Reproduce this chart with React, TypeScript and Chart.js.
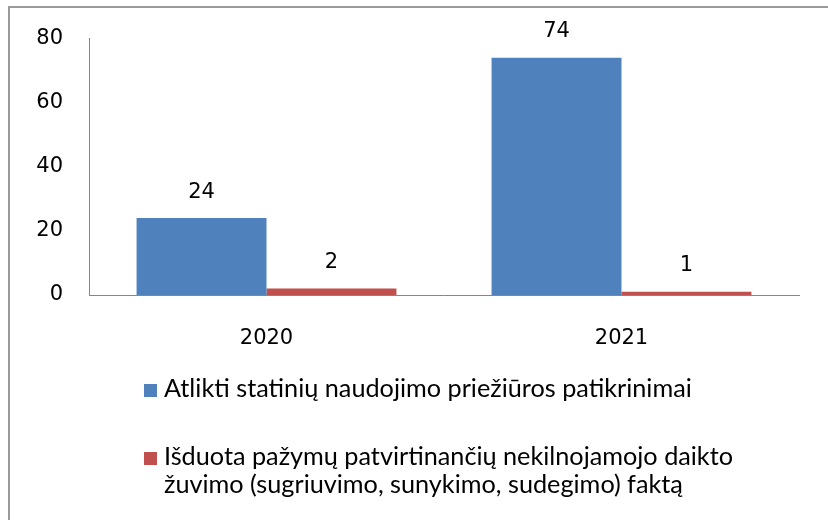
import React, { useEffect, useRef } from "react";
import { Chart, registerables } from "chart.js";

Chart.register(...registerables);

// ---- data ----
const categories = ["2020", "2021"];
const inspections = [24, 74];
const certificates = [2, 1];
const seriesNames: string[][] = [
  ["Atlikti statinių naudojimo priežiūros patikrinimai"],
  [
    "Išduota pažymų patvirtinančių nekilnojamojo daikto",
    "žuvimo (sugriuvimo, sunykimo, sudegimo) faktą",
  ],
];
const seriesColors = ["#4F81BD", "#C0504D"];
const yMin = 0;
const yMax = 80;
const yStep = 20;

const AXIS_FONT = "DejaVu Sans";
const LEGEND_FONT = "Lato";

const framePlugin = {
  id: "frame",
  beforeDraw(chart: any) {
    const ctx = chart.ctx;
    ctx.save();
    ctx.fillStyle = "#ffffff";
    ctx.fillRect(0, 0, chart.width, chart.height);
    ctx.strokeStyle = "#9a9a9a";
    ctx.lineWidth = 2;
    ctx.strokeRect(9, 7, chart.width + 20, chart.height + 20);
    ctx.restore();
  },
};

const valueLabelPlugin = {
  id: "valueLabels",
  afterDatasetsDraw(chart: any) {
    const ctx = chart.ctx;
    ctx.save();
    ctx.font = `21px "${AXIS_FONT}"`;
    ctx.fillStyle = "#000000";
    ctx.textAlign = "center";
    ctx.textBaseline = "middle";
    chart.data.datasets.forEach((ds: any, i: number) => {
      const meta = chart.getDatasetMeta(i);
      meta.data.forEach((el: any, j: number) => {
        ctx.fillText(String(ds.data[j]), el.x, el.y - 26);
      });
    });
    ctx.restore();
  },
};

const legendPlugin = {
  id: "wrapLegend",
  afterDraw(chart: any) {
    const ctx = chart.ctx;
    ctx.save();
    ctx.font = `100px "${LEGEND_FONT}"`;
    const w = ctx.measureText(seriesNames[0][0]).width;
    const size = (100 * 528) / w;
    ctx.font = `${size}px "${LEGEND_FONT}"`;
    ctx.textAlign = "left";
    ctx.textBaseline = "alphabetic";
    const boxX = 144;
    const textX = 164;
    const itemBaselines = [397, 465];
    const lineGap = 28;
    chart.data.datasets.forEach((ds: any, i: number) => {
      const base = itemBaselines[i];
      ctx.fillStyle = ds.backgroundColor;
      ctx.fillRect(boxX, base - 13, 13, 13);
      ctx.fillStyle = "#000000";
      seriesNames[i].forEach((line, k) => {
        ctx.fillText(line, textX, base + k * lineGap);
      });
    });
    ctx.restore();
  },
};

export default function App() {
  const ref = useRef<HTMLCanvasElement>(null);
  useEffect(() => {
    const chart = new Chart(ref.current as HTMLCanvasElement, {
      type: "bar",
      data: {
        labels: categories,
        datasets: [
          {
            label: seriesNames[0].join(" "),
            data: inspections,
            backgroundColor: seriesColors[0],
            categoryPercentage: 0.732,
            barPercentage: 1,
          },
          {
            label: seriesNames[1].join(" "),
            data: certificates,
            backgroundColor: seriesColors[1],
            categoryPercentage: 0.732,
            barPercentage: 1,
          },
        ],
      },
      options: {
        responsive: false,
        animation: false,
        devicePixelRatio: 1,
        layout: { padding: { left: 0, right: 29, top: 36, bottom: 0 } },
        plugins: {
          legend: { display: false },
          tooltip: { enabled: false },
        },
        scales: {
          x: {
            grid: { display: false, drawTicks: false },
            border: { display: true, color: "#868686", width: 1 },
            ticks: {
              color: "#000000",
              padding: 31,
              font: { family: AXIS_FONT, size: 21 },
            },
            afterFit: (s: any) => {
              s.height = 225;
            },
          },
          y: {
            min: yMin,
            max: yMax,
            grid: { display: false, drawTicks: false },
            border: { display: true, color: "#868686", width: 1 },
            ticks: {
              stepSize: yStep,
              color: "#000000",
              padding: 26,
              font: { family: AXIS_FONT, size: 21 },
            },
            afterFit: (s: any) => {
              s.width = 89;
            },
          },
        },
      },
      plugins: [framePlugin, valueLabelPlugin, legendPlugin],
    } as any);
    return () => chart.destroy();
  }, []);
  return (
    <div style={{ position: "fixed", left: 0, top: 0, width: 828, height: 520, background: "#fff" }}>
      <canvas ref={ref} width={828} height={520} style={{ display: "block", width: 828, height: 520 }} />
    </div>
  );
}
